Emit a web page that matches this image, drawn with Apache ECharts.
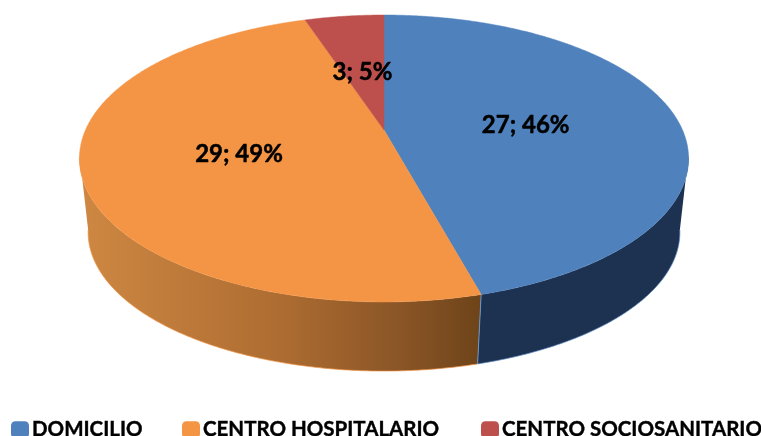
<!DOCTYPE html>
<html>
<head>
<meta charset="utf-8">
<style>html,body{margin:0;padding:0;background:#fff;overflow:hidden}#c{width:761px;height:436px}</style>
<script src="https://cdn.jsdelivr.net/npm/echarts@6/dist/echarts.min.js"></script>
</head>
<body>
<div id="c"></div>
<script>
var categories = ['DOMICILIO', 'CENTRO HOSPITALARIO', 'CENTRO SOCIOSANITARIO'];
var values = [27, 29, 3];
var topColors = ['#4f81bd', '#f49546', '#bd504d'];

var total = values.reduce(function (a, b) { return a + b; }, 0);
var top3d = { cx: 384, cy: 130, b: 298.5, a: 137.8, k: -0.1986 };
var bot3d = { cx: 384, cy: 206, b: 290.5, a: 133.7, k: -0.19 };
var FRONT_A = 100, FRONT_B = 260;
var LABEL_R = [0.485, 0.493, 0.5];

function project(p, deg, r) {
  var t = deg * Math.PI / 180, x = Math.sin(t) * r, y = -Math.cos(t) * r, d = 1 + p.k * y;
  return [p.cx + p.b * x / d, p.cy + p.a * y / d];
}
function arc(p, a0, a1) {
  var pts = [], n = Math.max(2, Math.ceil(Math.abs(a1 - a0) * 2));
  for (var i = 0; i <= n; i++) pts.push(project(p, a0 + (a1 - a0) * i / n, 1));
  return pts;
}
var sideFill = [
  '#1d3250',
  new echarts.graphic.LinearGradient(85, 0, 480, 0, [
    { offset: 0, color: '#cd8742' },
    { offset: 0.5, color: '#ad6c31' },
    { offset: 0.8, color: '#8a5527' },
    { offset: 1, color: '#6e4419' }
  ], true),
  '#5c2725'
];
sideFill[1].global = true;
var edgeColors = ['#5f8cc4', '#f49546', '#bd504d'];

function makeRender(idx) {
  return function (params, api) {
    var v = api.value(0);
    var before = 0;
    for (var i = 0; i < idx; i++) before += values[i];
    var a0 = before / total * 360, a1 = (before + v) / total * 360;
    var children = [];
    var s0 = Math.max(a0, FRONT_A), s1 = Math.min(a1, FRONT_B);
    if (s1 > s0) {
      var tArc = arc(top3d, s0, s1), bArc = arc(bot3d, s0, s1);
      children.push({ type: 'polygon', z2: 1, shape: { points: tArc.concat(bArc.slice().reverse()) },
        style: { fill: sideFill[idx], stroke: null } });
      children.push({ type: 'polyline', z2: 2, shape: { points: bArc },
        style: { fill: null, stroke: edgeColors[idx], lineWidth: 1, opacity: 0.7 } });
      if (a0 > FRONT_A) {
        children.push({ type: 'polyline', z2: 3, shape: { points: [project(top3d, a0, 1), project(bot3d, a0, 1)] },
          style: { fill: null, stroke: '#6a93c6', lineWidth: 1 } });
      }
    }
    var pts = [project(top3d, a0, 0)].concat(arc(top3d, a0, a1));
    children.push({ type: 'polygon', z2: 5, shape: { points: pts },
      style: { fill: topColors[idx], stroke: topColors[idx], lineWidth: 0.5 } });
    var mid = (a0 + a1) / 2, c = project(top3d, mid, LABEL_R[idx]);
    children.push({ type: 'text', z2: 10, x: c[0], y: c[1] + 4,
      style: { text: v + '; ' + Math.round(v / total * 100) + '%', fill: '#000', stroke: '#000', lineWidth: 0.5,
        align: 'center', verticalAlign: 'middle', font: 'bold 24px Lato, "Open Sans", sans-serif' } });
    return { type: 'group', children: children };
  };
}

var legendLeft = [11, 182, 481];
var chart = echarts.init(document.getElementById('c'), null, { renderer: 'canvas' });
chart.setOption({
  animation: false,
  color: topColors,
  legend: categories.map(function (name, i) {
    return { data: [name], left: legendLeft[i], top: 419, padding: 0, itemWidth: 18, itemHeight: 17, itemGap: 3,
      icon: 'roundRect', selectedMode: false,
      textStyle: { fontFamily: 'Lato, "Open Sans", sans-serif', fontWeight: 'bold', fontSize: 20.5, color: '#000',
        textBorderColor: '#000', textBorderWidth: 0.4, padding: [0, 0, 0, -2] } };
  }),
  series: categories.map(function (name, i) {
    return { type: 'custom', name: name, coordinateSystem: 'none', silent: true,
      itemStyle: { color: topColors[i] }, data: [[values[i]]], renderItem: makeRender(i) };
  })
});
</script>
</body>
</html>
